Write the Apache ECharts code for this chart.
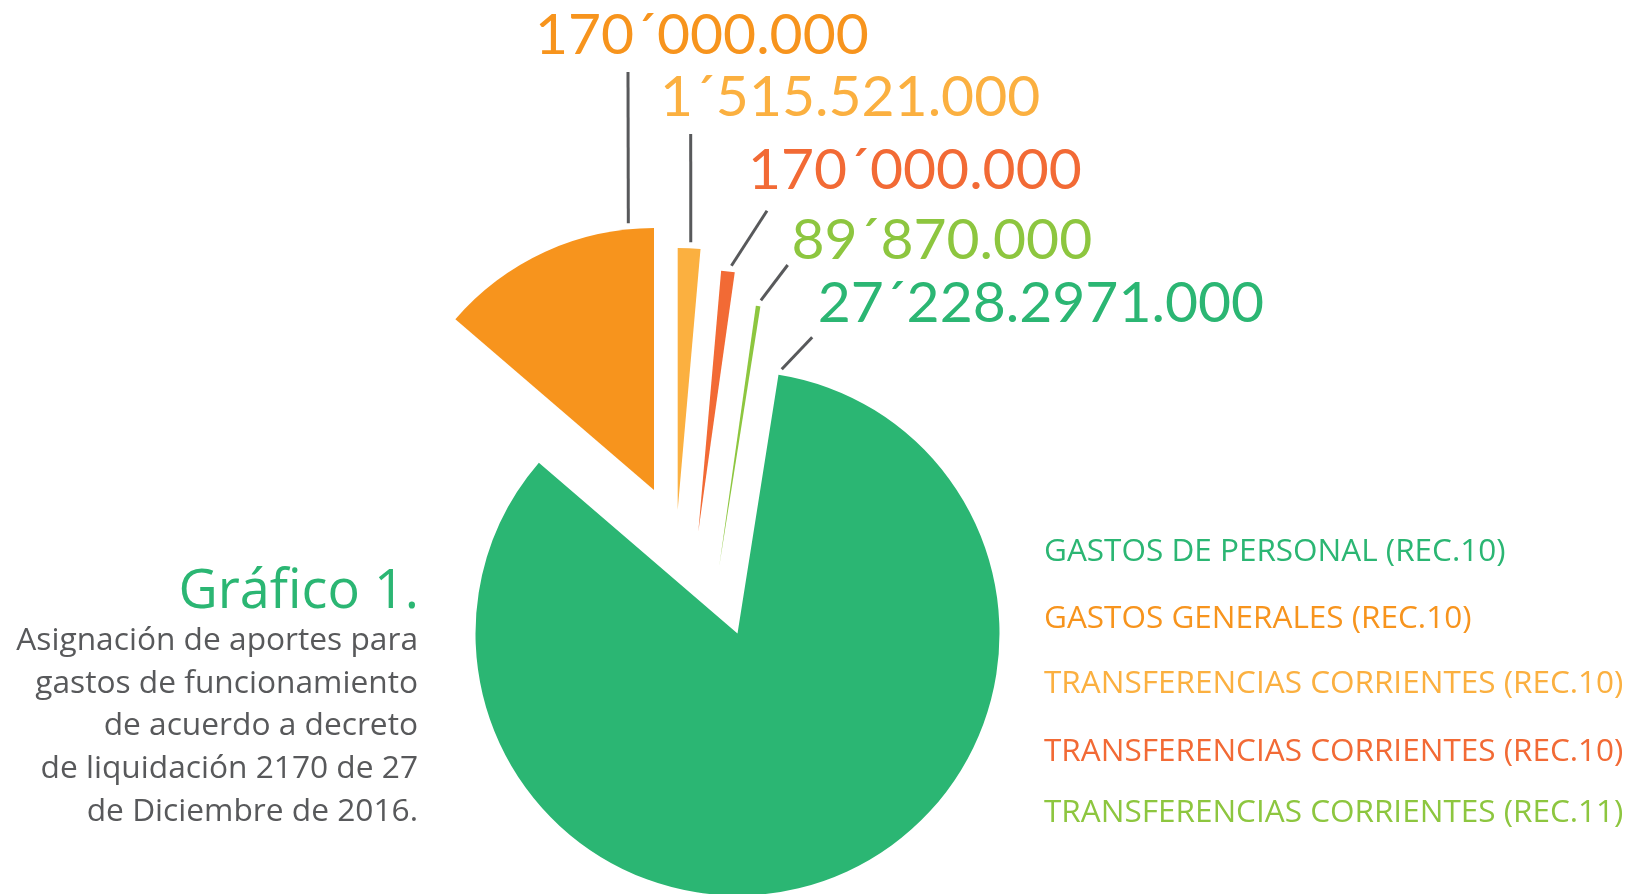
<!DOCTYPE html>
<html>
<head>
<meta charset="utf-8">
<script src="https://cdn.jsdelivr.net/npm/echarts@6/dist/echarts.min.js"></script>
<style>
html,body{margin:0;padding:0;background:#fff}
#main{width:1643px;height:894px}
</style>
</head>
<body>
<div id="main"></div>
<script>
// slices, clockwise from 12 o'clock (values = slice angle in degrees)
var sliceNames = ['TRANSFERENCIAS CORRIENTES (REC.10)', 'TRANSFERENCIAS CORRIENTES (REC.10)', 'TRANSFERENCIAS CORRIENTES (REC.11)', 'GASTOS DE PERSONAL (REC.10)', 'GASTOS GENERALES (REC.10)']
var sliceValues = [5.0, 3.0, 1.0, 301.7, 49.3]
var valueLabels = ['1\u00b4515.521.000', '170\u00b4000.000', '89\u00b4870.000', '27\u00b4228.2971.000', '170\u00b4000.000']
var sliceColors = ['#FBB040', '#F26A35', '#8DC63F', '#2BB673', '#F7941D']

var legendNames = ['GASTOS DE PERSONAL (REC.10)', 'GASTOS GENERALES (REC.10)', 'TRANSFERENCIAS CORRIENTES (REC.10)', 'TRANSFERENCIAS CORRIENTES (REC.10)', 'TRANSFERENCIAS CORRIENTES (REC.11)']
var legendColors = ['#2BB673', '#F7941D', '#FBB040', '#F26A35', '#8DC63F']

var titleText = 'Gráfico 1.'
var descLines = ['Asignación de aportes para', 'gastos de funcionamiento', 'de acuerdo a decreto', 'de liquidación 2170 de 27', 'de Diciembre de 2016.']

// layout
var pieCenter = [737.5, 633.5]
var pieRadius = 262
var sliceShift = [[-59.8, -123.5], [-39.2, -101.8], [-18.1, -68.3], [0, 0], [-83.5, -143.5]]
var labelPos = [[660, 97.8], [748, 170.4], [791.5, 240.4], [817.7, 303.7], [535, 35.5]]
var leaderAngle = [2.8, 7.1, 8.9, 9.5, 354.5]
var leaderEnd = [[690.7, 134], [767, 210.7], [787.7, 265], [812.2, 337.3], [628, 72]]
var legendRowY = [552, 619, 684.5, 752, 813]
var grey = '#58595B'

var chart = echarts.init(document.getElementById('main'))

var series = sliceValues.map(function (v, i) {
	var cx = pieCenter[0] + sliceShift[i][0]
	var cy = pieCenter[1] + sliceShift[i][1]
	return {
		type: 'pie',
		silent: true,
		animation: false,
		avoidLabelOverlap: false,
		startAngle: 90,
		clockwise: true,
		radius: pieRadius,
		center: [cx, cy],
		label: {show: false},
		labelLine: {show: false},
		data: sliceValues.map(function (w, j) {
			if (j !== i) {
				return {name: sliceNames[j], value: w, itemStyle: {color: 'rgba(0,0,0,0)'}, label: {show: false}, labelLine: {show: false}}
			}
			return {
				name: sliceNames[j],
				value: w,
				itemStyle: {color: sliceColors[j]},
				label: {show: true, position: 'outside', formatter: valueLabels[j], color: sliceColors[j], fontFamily: 'Lato', fontSize: 57},
				labelLine: {show: true, smooth: false, lineStyle: {color: grey, width: 3}}
			}
		}),
		labelLayout: function (p) {
			var k = p.dataIndex
			if (k !== i) return {}
			var a = leaderAngle[k] * Math.PI / 180
			var rr = pieRadius + 6
			var start = [cx + rr * Math.sin(a), cy - rr * Math.cos(a)]
			return {
				x: labelPos[k][0],
				y: labelPos[k][1],
				align: 'left',
				verticalAlign: 'middle',
				labelLinePoints: [start, leaderEnd[k], leaderEnd[k]]
			}
		}
	}
})

var graphics = []
graphics.push({
	type: 'text', x: 419, y: 593, silent: true,
	style: {text: titleText, fill: '#2BB673', font: 'normal 54px "Open Sans"', align: 'right', textAlign: 'right', verticalAlign: 'middle', textVerticalAlign: 'middle'}
})
descLines.forEach(function (t, k) {
	graphics.push({
		type: 'text', x: 418, y: 641 + k * 42.7, silent: true,
		style: {text: t, fill: grey, font: 'normal 31.7px "Open Sans"', align: 'right', textAlign: 'right', verticalAlign: 'middle', textVerticalAlign: 'middle'}
	})
})
legendNames.forEach(function (t, k) {
	graphics.push({
		type: 'text', x: 1044, y: legendRowY[k], silent: true,
		style: {text: t, fill: legendColors[k], font: 'normal 31.5px "Open Sans"', align: 'left', textAlign: 'left', verticalAlign: 'middle', textVerticalAlign: 'middle'}
	})
})

var option = {
	backgroundColor: '#fff',
	animation: false,
	series: series,
	graphic: graphics
}
chart.setOption(option)
</script>
</body>
</html>
